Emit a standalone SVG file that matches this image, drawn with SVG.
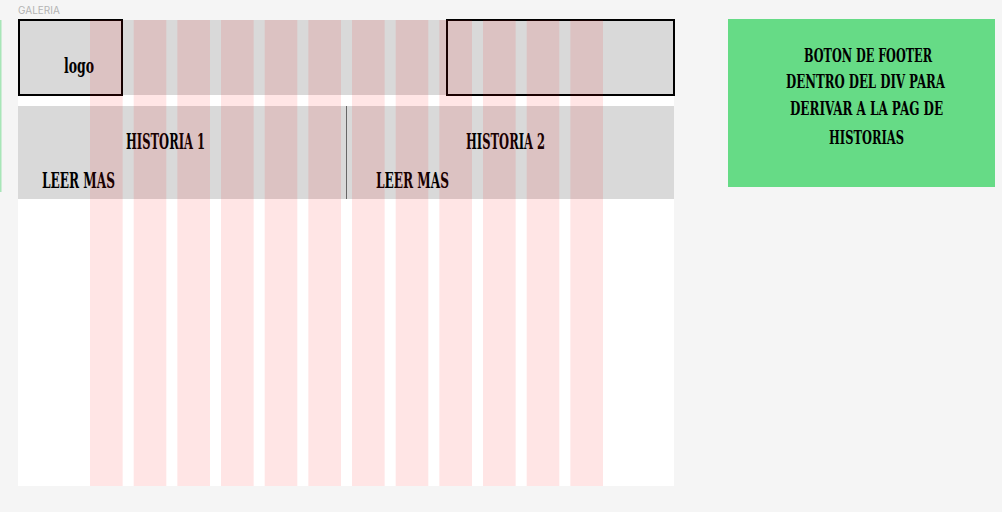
<svg xmlns="http://www.w3.org/2000/svg" width="1002" height="512" viewBox="0 0 1002 512">
<style>
.w{font-family:"DejaVu Serif Condensed","DejaVu Serif","Liberation Serif",serif;font-weight:bold;fill:#000}
.g{font-size:19px}
.lbl{font-family:Inter,"Liberation Sans",sans-serif;font-size:10px;fill:#B3B3B3}
.col{fill:#FF0000;fill-opacity:0.1}
.gray{fill:#D9D9D9}
.box{fill:none;stroke:#000;stroke-width:2}
</style>
<rect x="0" y="0" width="1002" height="512" fill="#F5F5F5"/>
<rect x="0" y="20" width="1.5" height="172" fill="#A8E6B8"/>
<text class="lbl" x="18" y="14">GALERIA</text>
<g id="frame">
<rect x="18" y="20" width="656" height="466" fill="#FFFFFF"/>
</g>
<g id="header">
<rect class="gray" x="18" y="20" width="656" height="75"/>
</g>
<g id="logo">
<rect class="box" x="19" y="20" width="103" height="75"/>
<text class="w" x="64" y="73" font-size="21" textLength="30" lengthAdjust="spacingAndGlyphs">logo</text>
</g>
<g id="nav-box">
<rect class="box" x="447" y="20" width="227" height="75"/>
</g>
<g id="historias">
<rect class="gray" x="18" y="106" width="656" height="93"/>
<line x1="346.5" y1="106" x2="346.5" y2="199" stroke="#666" stroke-width="1"/>
</g>
<g id="historia1">
<text class="w" x="126" y="149" font-size="22" textLength="79" lengthAdjust="spacingAndGlyphs">HISTORIA 1</text>
<text class="w" x="42" y="188" font-size="22" textLength="73" lengthAdjust="spacingAndGlyphs">LEER MAS</text>
</g>
<g id="historia2">
<text class="w" x="466" y="149" font-size="22" textLength="79" lengthAdjust="spacingAndGlyphs">HISTORIA 2</text>
<text class="w" x="376" y="188" font-size="22" textLength="73" lengthAdjust="spacingAndGlyphs">LEER MAS</text>
</g>
<g id="grid">
<rect class="col" x="90" y="20" width="32.67" height="466"/>
<rect class="col" x="133.67" y="20" width="32.67" height="466"/>
<rect class="col" x="177.33" y="20" width="32.67" height="466"/>
<rect class="col" x="221" y="20" width="32.67" height="466"/>
<rect class="col" x="264.67" y="20" width="32.67" height="466"/>
<rect class="col" x="308.33" y="20" width="32.67" height="466"/>
<rect class="col" x="352" y="20" width="32.67" height="466"/>
<rect class="col" x="395.67" y="20" width="32.67" height="466"/>
<rect class="col" x="439.33" y="20" width="32.67" height="466"/>
<rect class="col" x="483" y="20" width="32.67" height="466"/>
<rect class="col" x="526.67" y="20" width="32.67" height="466"/>
<rect class="col" x="570.33" y="20" width="32.67" height="466"/>
</g>
<g id="nota-footer">
<rect x="728" y="19" width="267" height="168" fill="#66DB86"/>
<text class="w g" x="804" y="62" textLength="128" lengthAdjust="spacingAndGlyphs">BOTON DE FOOTER</text>
<text class="w g" x="786" y="88" textLength="159" lengthAdjust="spacingAndGlyphs">DENTRO DEL DIV PARA</text>
<text class="w g" x="790" y="115" textLength="153" lengthAdjust="spacingAndGlyphs">DERIVAR A LA PAG DE</text>
<text class="w g" x="829" y="144" textLength="75" lengthAdjust="spacingAndGlyphs">HISTORIAS</text>
</g>
</svg>
